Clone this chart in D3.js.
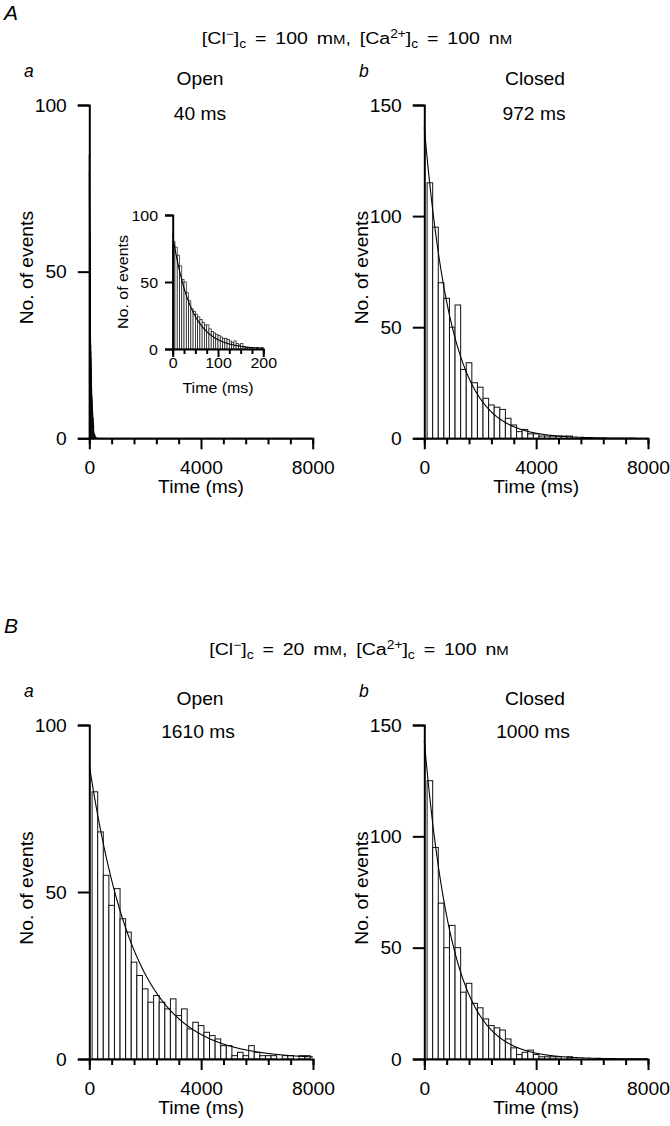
<!DOCTYPE html>
<html><head><meta charset="utf-8">
<script src="https://cdn.jsdelivr.net/npm/d3@7"></script>
<style>body{margin:0;background:#fff}svg{display:block}text{white-space:pre}</style>
</head><body>
<svg id="chart" width="670" height="1126"></svg>
<script>
// ---------- DATA ----------
// 200-ms bins (centres, ms) used by A-b, B-a, B-b
const binCenters200 = [200,400,600,800,1000,1200,1400,1600,1800,2000,2200,2400,2600,2800,3000,3200,3400,3600,3800,4000,
  4200,4400,4600,4800,5000,5200,5400,5600,5800,6000,6200,6400,6600,6800,7000,7200,7400,7600,7800];
// 5-ms bins (centres, ms) used by A-a and its inset
const binCenters5 = [2.5,7.5,12.5,17.5,22.5,27.5,32.5,37.5,42.5,47.5,52.5,57.5,62.5,67.5,72.5,77.5,82.5,87.5,92.5,97.5,
  102.5,107.5,112.5,117.5,122.5,127.5,132.5,137.5,142.5,147.5,152.5,157.5,162.5,167.5,172.5,177.5,182.5,187.5,192.5,197.5];

const openA   = [80,76,70,62,52,50,42,36,30,28,26,24,22,20,18,18,15,13,12,11,10,9,8,8,7,6,5,6,4,3,4,2,1,1,1,1,0,1,0,1];
const closedA = [115,95,70,63,50,60,31,34,25,23,18,15,14,13,9,6,3,4,2,2,1,1,1,1,1,1,0,0,0,0,0,0,0,0,0,0,0,0,0];
const openB   = [80,68,55,46,51,42,38,29,25,21,17,19,17,15,18,13,15,9,11,10,8,7,6,4,4,1,2,1,4,2,1,1,1,0,1,1,0,1,1];
const closedB = [125,95,70,50,60,50,30,34,25,23,18,15,14,13,9,5,2,3,4,2,1,1,1,1,0,1,0,0,0,0,0,0,0,0,0,0,0,0,0];

// single-exponential fits: amplitude (events) and time constant (ms)
const fitAmp = {openA: 85, closedA: 140, openB: 88, closedB: 143};
const fitTau = {openA: 40, closedA: 972, openB: 1610, closedB: 1000};

const xTicksMain = [0,800,1600,2400,3200,4000,4800,5600,6400,7200,8000];
const xLabelsMain = [0,4000,8000];
const xTicksInset = [0,25,50,75,100,125,150,175,200];
const xLabelsInset = [0,100,200];
const yTicks100 = [0,50,100];
const yTicks150 = [0,50,100,150];

// ---------- DRAWING ----------
const svg = d3.select("#chart");
const FONT = "'Liberation Sans', Arial, Helvetica, sans-serif";
const SX = 1.1;

function label(parent, x, y, str, o = {}) {
  const size = o.size || 17.5, sx = o.sx || SX;
  return parent.append("text")
    .attr("transform", `translate(${x},${y}) rotate(${o.rotate || 0}) scale(${sx},1)`)
    .attr("text-anchor", o.anchor || "middle")
    .style("font-family", FONT).style("font-size", size + "px")
    .style("font-style", o.italic ? "italic" : "normal")
    .attr("fill", "#000")
    .text(str);
}

function panel(c) {
  const x = d3.scaleLinear().domain(c.xDomain).range([c.x0, c.x1]);
  const y = d3.scaleLinear().domain([0, c.yMax]).range([c.yb, c.yt]);
  const g = svg.append("g");
  const data = c.centers.map((ct, i) => ({ct, v: c.values[i]})).filter(d => d.v > 0);
  g.append("g").selectAll("rect").data(data).join("rect")
    .attr("x", d => x(d.ct - c.binW / 2))
    .attr("width", d => x(d.ct + c.binW / 2) - x(d.ct - c.binW / 2))
    .attr("y", d => y(d.v))
    .attr("height", d => y(0) - y(d.v))
    .attr("fill", "#fff").attr("stroke", "#111").attr("stroke-width", c.barStroke);
  // fitted exponential
  const ts = d3.range(c.xDomain[0], c.xDomain[1] + c.step / 2, c.step);
  const line = d3.line().x(t => x(t)).y(t => y(c.amp * Math.exp(-t / c.tau)));
  g.append("path").attr("d", line(ts)).attr("fill", "none").attr("stroke", "#000").attr("stroke-width", 1.1);

  // x axis
  const xa = g.append("g").attr("transform", `translate(0,${c.yb})`)
    .call(d3.axisBottom(x).tickValues(c.xTicks).tickSizeOuter(0).tickSize(c.minorLen)
      .tickFormat(d => c.xLabels.includes(d) ? String(d) : ""));
  xa.attr("font-size", null).attr("font-family", null);
  xa.select(".domain").attr("stroke", "#000").attr("stroke-width", 2);
  xa.selectAll(".tick line").attr("stroke", "#000").attr("stroke-width", 2)
    .attr("y2", d => c.xLabels.includes(d) ? c.majorLen : c.minorLen);
  xa.selectAll(".tick text").attr("y", c.xLabelY).attr("dy", 0)
    .attr("transform", `scale(${SX},1)`).attr("fill", "#000")
    .style("font-family", FONT).style("font-size", c.font + "px");

  // y axis
  const ya = g.append("g").attr("transform", `translate(${c.x0},0)`)
    .call(d3.axisLeft(y).tickValues(c.yTicks).tickSizeOuter(0).tickSize(c.yTickLen));
  ya.attr("font-size", null).attr("font-family", null);
  ya.select(".domain").attr("stroke", "#000").attr("stroke-width", 2);
  ya.selectAll(".tick line").attr("stroke", "#000").attr("stroke-width", 2);
  ya.selectAll(".tick text").attr("x", 0).attr("dy", "0.36em")
    .attr("transform", `translate(${-(c.yTickLen + c.yPad)},0) scale(${SX},1)`).attr("fill", "#000")
    .style("font-family", FONT).style("font-size", c.font + "px");

  // axis titles
  label(svg, (c.x0 + c.x1) / 2, c.yb + c.xTitleDy, "Time (ms)", {size: c.font});
  label(svg, c.x0 - c.yTitleDx, (c.yb + c.yt) / 2 + c.yTitleShift, "No. of events", {size: c.font, rotate: -90});
}

const mainCfg = {xDomain: [0, 8000], xTicks: xTicksMain, xLabels: xLabelsMain, minorLen: 6, majorLen: 11,
  xLabelY: 36, yTickLen: 11.5, yPad: 11, font: 17.5, xTitleDy: 55, yTitleDx: 56, yTitleShift: -4, barStroke: 1, step: 10};

panel(Object.assign({}, mainCfg, {x0: 89.3, x1: 312.7, yb: 438.3, yt: 105, yMax: 100, yTicks: yTicks100,
  centers: binCenters5, values: openA, binW: 5, amp: fitAmp.openA, tau: fitTau.openA, step: 1}));
panel(Object.assign({}, mainCfg, {x0: 424.3, x1: 648, yb: 438.3, yt: 105, yMax: 150, yTicks: yTicks150,
  centers: binCenters200, values: closedA, binW: 200, amp: fitAmp.closedA, tau: fitTau.closedA}));
panel(Object.assign({}, mainCfg, {x0: 89.3, x1: 313, yb: 1059, yt: 725, yMax: 100, yTicks: yTicks100,
  centers: binCenters200, values: openB, binW: 200, amp: fitAmp.openB, tau: fitTau.openB}));
panel(Object.assign({}, mainCfg, {x0: 424.3, x1: 648, yb: 1059, yt: 725, yMax: 150, yTicks: yTicks150,
  centers: binCenters200, values: closedB, binW: 200, amp: fitAmp.closedB, tau: fitTau.closedB}));
// inset of A-a
panel({xDomain: [0, 200], xTicks: xTicksInset, xLabels: xLabelsInset, minorLen: 5, majorLen: 8,
  xLabelY: 19, yTickLen: 7.7, yPad: 7, font: 14.5, xTitleDy: 44, yTitleDx: 45, yTitleShift: 0, barStroke: 0.7, step: 0.5,
  x0: 172.7, x1: 263.3, yb: 349, yt: 215, yMax: 100, yTicks: yTicks100,
  centers: binCenters5, values: openA, binW: 5, amp: fitAmp.openA, tau: fitTau.openA});

// ---------- HEADINGS ----------
function title(x, y, cl) {
  const t = svg.append("text").attr("transform", `translate(${x},${y}) scale(1.15,1)`)
    .attr("text-anchor", "middle").style("font-family", FONT).style("font-size", "17px")
    .style("word-spacing", "3px").attr("fill", "#000");
  t.append("tspan").text("[Cl");
  t.append("tspan").attr("dy", -6).style("font-size", "12px").text("\u2212");
  t.append("tspan").attr("dy", 6).text("]");
  t.append("tspan").attr("dy", 4).style("font-size", "12px").text("c");
  t.append("tspan").attr("dy", -4).text(` = ${cl} m`);
  t.append("tspan").style("font-size", "13px").text("M");
  t.append("tspan").text(", [Ca");
  t.append("tspan").attr("dy", -6).style("font-size", "12px").text("2+");
  t.append("tspan").attr("dy", 6).text("]");
  t.append("tspan").attr("dy", 4).style("font-size", "12px").text("c");
  t.append("tspan").attr("dy", -4).text(" = 100 n");
  t.append("tspan").style("font-size", "13px").text("M");
}

label(svg, 4, 20, "A", {size: 21, anchor: "start", italic: true, sx: 1});
title(357, 44, "100");
label(svg, 24, 77, "a", {anchor: "start", italic: true, sx: 1});
label(svg, 359, 77, "b", {anchor: "start", italic: true, sx: 1});
label(svg, 200, 85, "Open");
label(svg, 200, 120, "40 ms");
label(svg, 535, 85, "Closed");
label(svg, 534, 120, "972 ms");

label(svg, 4, 633, "B", {size: 21, anchor: "start", italic: true, sx: 1});
title(359, 655, "20");
label(svg, 24, 697, "a", {anchor: "start", italic: true, sx: 1});
label(svg, 359, 697, "b", {anchor: "start", italic: true, sx: 1});
label(svg, 200, 705, "Open");
label(svg, 198, 738, "1610 ms");
label(svg, 535, 705, "Closed");
label(svg, 533, 738, "1000 ms");
</script>
</body></html>
